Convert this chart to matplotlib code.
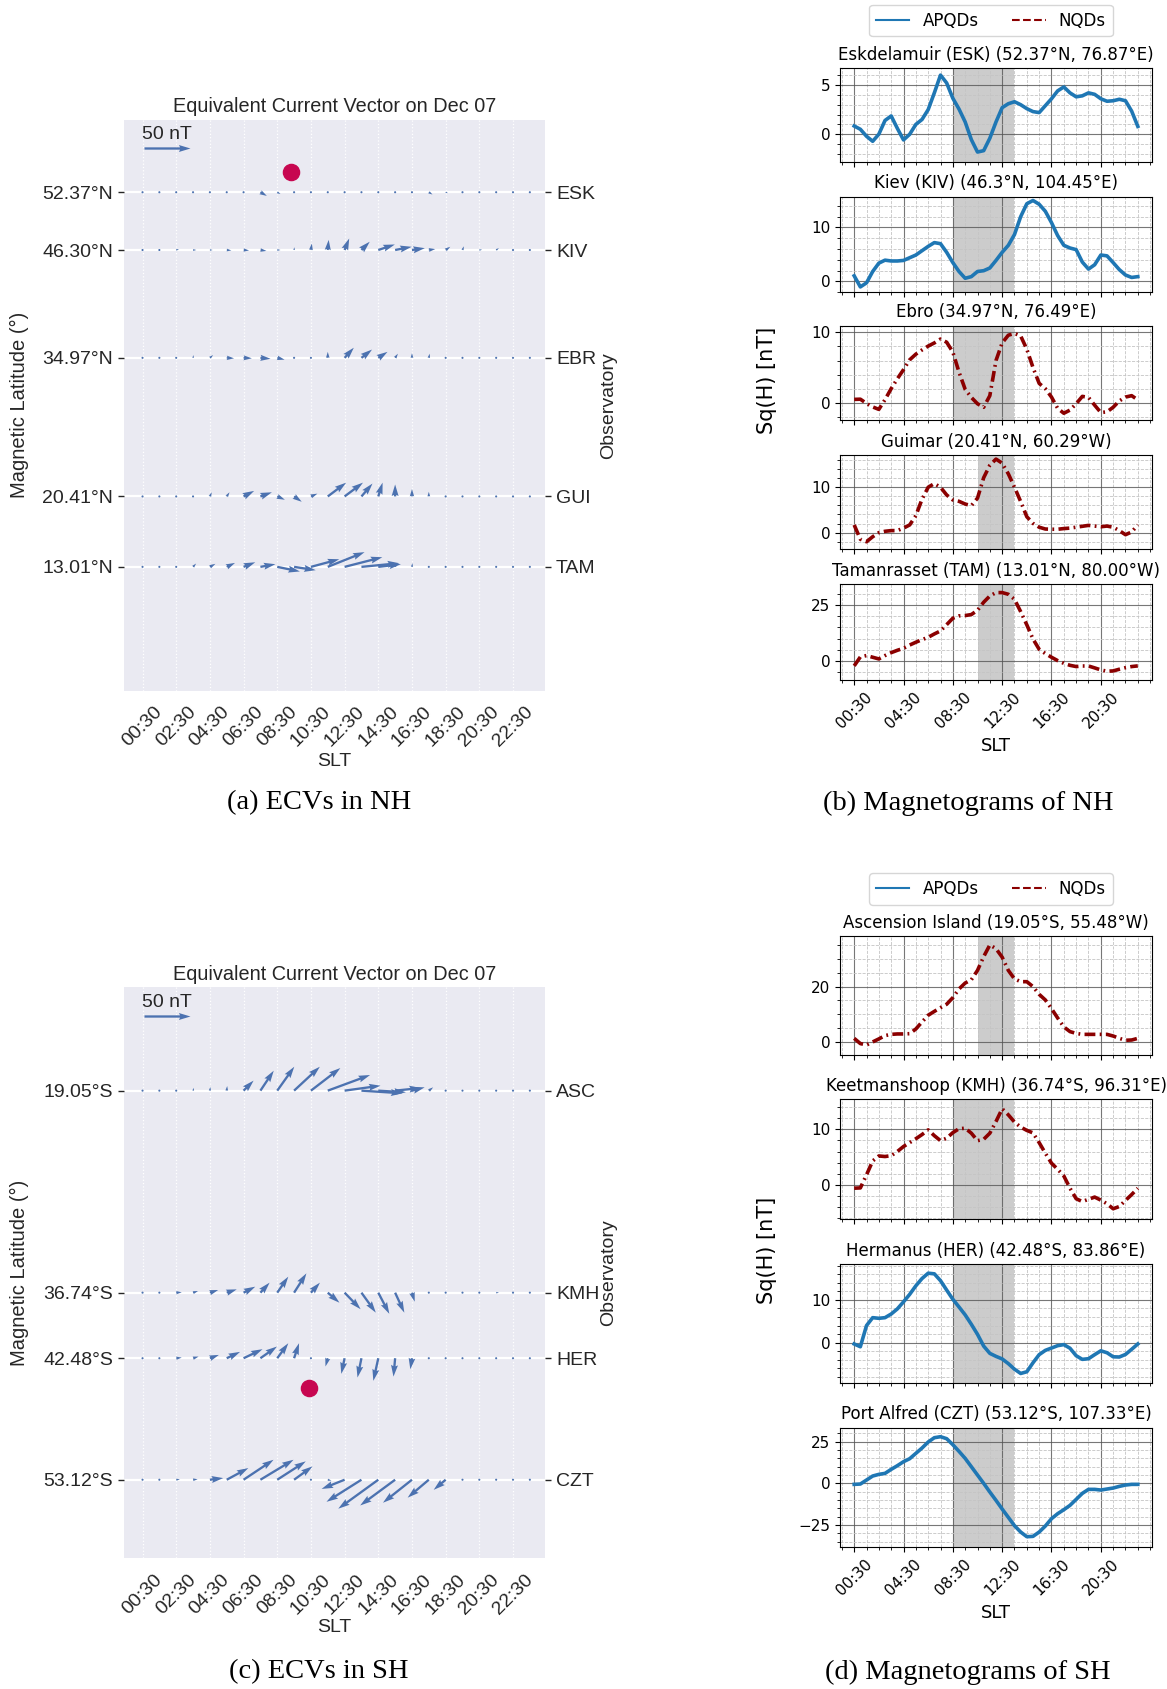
import numpy as np
import matplotlib
matplotlib.use("Agg")
import matplotlib.pyplot as plt
from matplotlib.lines import Line2D
from matplotlib.ticker import AutoMinorLocator

plt.rcParams["font.family"] = ["DejaVu Sans"]

W, H = 1167, 1689
fig = plt.figure(figsize=(W / 100, H / 100), dpi=100)


def box(x0, y0, x1, y1):
    # pixel box (top-left origin) -> figure rect
    return [x0 / W, 1 - y1 / H, (x1 - x0) / W, (y1 - y0) / H]


# ---------------- data ----------------
slt = np.arange(0.5, 24, 1.0)          # hourly SLT (ECVs)
slt_half = np.arange(0.5, 23.6, 0.5)   # half-hourly SLT (magnetograms)
tick_labels_2h = ["%02d:30" % h for h in range(0, 24, 2)]
tick_labels_4h = ["%02d:30" % h for h in range(0, 24, 4)]

# northern hemisphere ECVs (east, north components in nT)
nh_codes = ["ESK", "KIV", "EBR", "GUI", "TAM"]
nh_lats = [52.37, 46.30, 34.97, 20.41, 13.01]
nh_lat_labels = ["52.37°N", "46.30°N", "34.97°N", "20.41°N", "13.01°N"]

esk_u = [0.5, 0.5, 0.5, 0.5, 0.5, 0.5, 0.5, 7, 3.5, 1, 2, 0.5, 0.5, 1, 1, 1, 2, 4, 2.5, 2, 2, 1.5, 1, 1]
esk_v = [0, 0, 0, 0, 0, 0, 0, -4, -2, 0, -1, 0, 0, -0.5, -0.5, 0, -1, -2.5, -1, -0.5, -0.5, -0.5, -0.3, 0]
kiv_u = [0.3, 0.3, 3, 3.5, 3, 5, 6, 6.5, 3.5, 0.3, 1, 1, 5, 9, 18, 18, 14, 7, 5, 1.5, 3, 3, 0.5, 0.5]
kiv_v = [0, 0, 1, 0, 0, -0.5, -0.5, -1, 0, 3, 7, 11, 12.5, 9, 6, 3.5, 2, 1, 3.5, 4, 0.3, 2, 0, 0]
ebr_u = [0.3, 0.3, 0.3, 0.5, 3.5, 8, 9, 11, 8, 0.3, 0.3, 0, 10, 11.5, 10, 3, 0, 1, 0.3, 0.3, 0.3, 0.3, 0.3, 0.3]
ebr_v = [0, 0, 0, 3, 3, -0.5, -0.5, -1, -2, 0, 1.5, 6.5, 11, 9, 6.5, 4.5, 5, 4.5, 0, 2, 0, 0, 0, 0]
gui_u = [0.3, 0.3, 0.3, 0.3, 2, 3, 11.5, 12.5, 8.3, 8.3, 7, 20, 20, 12, 4.7, 0, 0, 0, 0, 0, 0.3, 0.3, 0.3, 0.3]
gui_v = [0, 0, 0, 2, 4.5, 4.5, 6, 4.5, -3.6, -5.8, 3, 15, 15, 14, 15, 13, 8, 5, 2, 1.5, 0, 0, 0, 0]
tam_u = [0.3, 0.3, 0.3, 3.3, 6, 9, 12.7, 16.3, 24.6, 23.5, 30.8, 40, 41, 41, 24.6, 1, 0.5, 1.5, 2, 1.5, 0.3, 0.3, 0.3, 0.3]
tam_v = [0, 0, 0, 3.6, 3.3, 4.3, 5, 2.9, -5, -3.6, 8.3, 16, 10.5, 4, 2.9, 4, 4, -2, -1.5, -1, 0, 0, 0, 0]

# southern hemisphere ECVs
sh_codes = ["ASC", "KMH", "HER", "CZT"]
sh_lats = [-19.05, -36.74, -42.48, -53.12]
sh_lat_labels = ["19.05°S", "36.74°S", "42.48°S", "53.12°S"]

asc_u = [0.3, 0.3, 0.3, 1, 0.5, 0.5, 10.9, 14.5, 18.5, 28, 32, 46, 39, 44.6, 30, 28, 13.8, 4.7, 0.5, 0.3, 0.3, 0.3, 0.3, 0.3]
asc_v = [0, 0, 1.5, 3, 4, 5, 10.9, 21.7, 26, 26, 24.6, 17, 5.4, -2.9, -1.8, 2.9, 3.6, 3.6, 0.5, 0, 0, 0, 0, 0]
kmh_u = [0.3, 0.3, 6, 5.4, 9, 10.9, 12.7, 10, 12, 13.4, 9.8, 12.7, 17.4, 15.6, 12, 10, 3, 0.3, 0.3, 0.3, 0.3, 3, 0.3, 0.3]
kmh_v = [0, 0, 0.4, 1.8, 2.9, 3.6, 6.5, 10.9, 17.4, 21, 10.9, -10.9, -18, -21.7, -23, -21.7, -9.8, 0, 0, 0, 0, 0, 0, 0]
her_u = [0.3, 0.3, 6, 6, 9.8, 14.5, 20.6, 18, 12, 5.4, 0, -2.5, -3.6, -4.3, -5.4, -1.8, -1.8, 0, 0.3, 0.3, 0.3, 0.3, 0.3, 0.3]
her_v = [0, 0, 0.7, 1.8, 3.6, 6.9, 9.8, 12.7, 16.3, 16.3, 1, -9, -17, -21, -24.6, -20, -12, -1, 0, 0, 0, 0, 0, 0]
czt_u = [0.3, 0.3, 4, 5, 14.5, 23.5, 32.6, 36, 31, 20, 1, 4, -25, -38, -43.5, -38, -31.5, -23, -13, 0.5, 0.3, 0.3, 0.3, 0.3]
czt_v = [0, 0, 0.5, 0.5, 1.8, 12.7, 21.7, 21.7, 20, 14.5, 2, -1, -10, -24, -31.5, -28, -25, -19.5, -11, 0, 0, 0, 0, 0]

# marker dots (SLT, latitude)
nh_dot = (9.31, 54.47)
sh_dot = (10.36, -45.06)

# magnetograms Sq(H) [nT], half-hourly
esk_sq = [0.84, 0.51, -0.2, -0.71, 0.01, 1.4, 1.86, 0.6, -0.57, 0, 1.0, 1.5, 2.5, 4.2, 6.0, 5.2,
          3.65, 2.56, 1.25, -0.54, -1.8, -1.66, -0.4, 1.25, 2.7, 3.1, 3.3, 3.0, 2.6, 2.3, 2.2, 2.9,
          3.6, 4.4, 4.8, 4.2, 3.8, 3.9, 4.2, 4.05, 3.6, 3.35, 3.4, 3.55, 3.4, 2.35, 0.8]
kiv_sq = [1.05, -1.0, -0.25, 1.85, 3.4, 3.95, 3.8, 3.8, 3.9, 4.4, 4.9, 5.7, 6.5, 7.2, 7.0, 5.4,
          3.5, 1.85, 0.6, 0.9, 1.85, 2.0, 2.5, 3.9, 5.4, 6.7, 8.7, 12.0, 14.4, 15.0, 14.3, 13.0,
          10.9, 8.5, 6.7, 6.2, 5.9, 3.6, 2.3, 3.1, 4.9, 4.75, 3.5, 2.2, 1.2, 0.75, 0.9]
ebr_sq = [0.47, 0.5, -0.1, -0.6, -0.95, 0.43, 2.0, 3.4, 4.7, 6.1, 6.9, 7.5, 8.05, 8.5, 9.05, 8.6,
          7.2, 4.35, 1.9, 0.75, -0.15, -0.65, 1.0, 6.0, 8.5, 9.6, 9.85, 9.5, 7.6, 5.0, 2.75, 2.0,
          0.8, -0.8, -1.5, -1.05, -0.15, 0.9, 0.75, -0.35, -1.4, -1.3, -0.65, 0.25, 0.8, 1.0, 0.4]
gui_sq = [1.7, -1.45, -2.0, -0.9, 0, 0.3, 0.45, 0.45, 1.0, 1.7, 3.75, 7.35, 10.0, 10.8, 10.0, 8.3,
          7.2, 6.9, 6.3, 5.95, 7.6, 12.1, 14.85, 16.2, 15.3, 12.95, 10.0, 6.85, 3.5, 2.05, 1.2, 0.8,
          0.75, 0.75, 0.9, 1.0, 1.2, 1.4, 1.6, 1.45, 1.3, 1.45, 1.2, 0.45, -0.45, 0.15, 1.7]
tam_sq = [-2.2, 1.8, 2.4, 1.65, 0.9, 2.4, 3.7, 4.75, 5.65, 7.1, 8.35, 9.5, 10.55, 12.05, 13.4, 16.2,
          19.05, 20.1, 20.25, 20.7, 22.6, 26.2, 29.0, 30.5, 30.5, 29.75, 27.5, 22.0, 16.1, 9.8, 5.2, 3.3,
          1.65, 0.15, -1.05, -1.95, -2.5, -2.25, -2.25, -3.1, -4.0, -4.6, -4.45, -3.7, -3.0, -2.5, -2.2]
asc_sq = [1.2, -0.7, -1.2, -0.1, 1.0, 2.2, 2.65, 2.8, 2.8, 2.9, 4.6, 7.15, 9.6, 11.0, 12.35, 13.6,
          16.0, 19.15, 21.3, 22.5, 25.9, 30.9, 35.15, 33.8, 30.7, 25.9, 22.8, 21.8, 21.8, 20.0, 17.2, 15.15,
          12.0, 8.6, 5.35, 3.65, 3.0, 2.65, 2.65, 2.65, 2.65, 2.65, 2.05, 1.2, 0.5, 0.6, 1.2]
kmh_sq = [-0.6, -0.55, 1.8, 4.3, 5.2, 5.1, 5.25, 6.0, 6.9, 7.6, 8.3, 9.05, 9.9, 8.85, 7.95, 8.4,
          9.4, 10.1, 10.2, 9.3, 7.95, 8.2, 9.3, 11.4, 13.7, 12.6, 11.3, 10.4, 9.8, 9.35, 7.6, 5.7,
          3.9, 2.8, 1.6, -0.6, -2.5, -3.0, -2.6, -2.2, -2.75, -3.4, -4.3, -3.9, -2.8, -1.75, -0.6]
her_sq = [-0.3, -0.95, 4.0, 5.85, 5.7, 5.85, 6.7, 7.9, 9.55, 11.3, 13.3, 15.0, 16.25, 16.1, 14.5, 12.3,
          10.15, 8.35, 6.5, 4.3, 1.95, -0.8, -2.5, -3.2, -3.8, -4.9, -6.2, -7.2, -6.8, -4.7, -2.8, -1.8,
          -1.25, -0.7, -0.45, -1.3, -3.05, -3.9, -3.75, -2.8, -1.9, -2.35, -3.3, -3.35, -2.75, -1.55, -0.3]
czt_sq = [-0.6, -0.4, 2.0, 4.4, 5.4, 6.0, 8.4, 10.6, 13.0, 14.8, 18.0, 21.2, 24.8, 27.4, 28.0, 26.8,
          23.2, 19.2, 15.0, 10.0, 5.0, 0, -5.2, -10.2, -15.4, -20.4, -25.4, -29.2, -32.0, -31.8, -29.2, -25.6,
          -21.2, -18.2, -15.8, -13.2, -9.6, -6.0, -3.6, -3.6, -4.0, -3.4, -2.8, -1.8, -1.0, -0.6, -0.6]

nh_titles = ["Eskdelamuir (ESK) (52.37°N, 76.87°E)", "Kiev (KIV) (46.3°N, 104.45°E)",
             "Ebro (34.97°N, 76.49°E)", "Guimar (20.41°N, 60.29°W)",
             "Tamanrasset (TAM) (13.01°N, 80.00°W)"]
sh_titles = ["Ascension Island (19.05°S, 55.48°W)", "Keetmanshoop (KMH) (36.74°S, 96.31°E)",
             "Hermanus (HER) (42.48°S, 83.86°E)", "Port Alfred (CZT) (53.12°S, 107.33°E)"]

# ---------------- styles ----------------
SANS = "Liberation Sans"
FS = 14
GREY = "#262626"
ARROW = "#4C72B0"
DOT = "#C70650"
APQD = dict(color="#1f77b4", lw=2.6, ls="-")
NQD = dict(color="#8B0000", lw=2.6, ls=(0, (3, 1.2, 0.5, 1.2)))


def ecv_panel(rect, lats, lat_labels, codes, us, vs, dot, ylim, title_y, slt_y):
    ax = fig.add_axes(box(*rect))
    ax.set_facecolor("#EAEAF2")
    for s in ax.spines.values():
        s.set_visible(False)
    ax.set_axisbelow(True)
    ax.grid(axis="y", color="white", lw=1.6)
    ax.grid(axis="x", color="white", lw=0.9, ls=":")
    X = np.tile(slt, len(lats))
    Y = np.repeat(lats, len(slt))
    q = ax.quiver(X, Y, np.concatenate(us), np.concatenate(vs), color=ARROW,
                  angles="uv", scale_units="inches", scale=108.7, width=0.0055,
                  pivot="tail", zorder=3)
    ax.quiverkey(q, 0.102, 0.95, 50, "50 nT", labelpos="N", coordinates="axes",
                 color=ARROW, labelcolor=GREY, labelsep=0.05,
                 fontproperties={"family": SANS, "size": FS})
    ax.scatter([dot[0]], [dot[1]], s=135, color=DOT, zorder=4)
    ax.set_xlim(-0.6, 24.4)
    ax.set_ylim(*ylim)
    ax.set_xticks(slt[::2])
    ax.set_xticklabels(tick_labels_2h, rotation=45, family=SANS, fontsize=FS, color=GREY)
    ax.tick_params(axis="x", length=0, pad=9)
    ax.set_yticks(lats)
    ax.set_yticklabels(lat_labels, family=SANS, fontsize=FS, color=GREY)
    ax.tick_params(axis="y", length=4, width=1, color=GREY, pad=4)
    ax2 = ax.twinx()
    ax2.set_ylim(*ylim)
    ax2.set_yticks(lats)
    ax2.set_yticklabels(codes, family=SANS, fontsize=FS, color=GREY)
    ax2.tick_params(axis="y", length=4, width=1, color=GREY, pad=4)
    for s in ax2.spines.values():
        s.set_visible(False)
    cx = (rect[0] + rect[2]) / 2 / W
    cy = 1 - (rect[1] + rect[3]) / 2 / H
    fig.text(cx, 1 - title_y / H, "Equivalent Current Vector on Dec 07", ha="center",
             va="center", family=SANS, fontsize=14.3, color=GREY)
    fig.text(cx, 1 - slt_y / H, "SLT", ha="center", va="center", family=SANS,
             fontsize=FS, color=GREY)
    fig.text(19.5 / W, cy, "Magnetic Latitude (°)", rotation=90, ha="center", va="center",
             family=SANS, fontsize=14.5, color=GREY)
    fig.text(609 / W, cy, "Observatory", rotation=90, ha="center", va="center",
             family=SANS, fontsize=FS, color=GREY)


def sq_panel(rect, title, vals, style, span, ylim, yticks, bottom):
    ax = fig.add_axes(box(*rect))
    ax.axvspan(span[0], span[1], color="gray", alpha=0.4, lw=0, zorder=1)
    ax.plot(slt_half, vals, zorder=3, **style)
    ax.set_xlim(-0.65, 24.65)
    ax.set_ylim(*ylim)
    ax.set_xticks(slt[::4])
    ax.set_yticks(yticks)
    ax.xaxis.set_minor_locator(AutoMinorLocator(4))
    ax.yaxis.set_minor_locator(AutoMinorLocator())
    ax.grid(which="major", color="#555555", lw=0.8, alpha=0.8)
    ax.grid(which="minor", color="#c4c4c4", lw=0.6, ls="--")
    ax.tick_params(labelsize=11)
    if bottom:
        ax.set_xticklabels(tick_labels_4h, rotation=45)
        ax.set_xlabel("SLT", fontsize=13)
    else:
        ax.set_xticklabels([])
    ax.set_title(title, fontsize=12)
    return ax


# ---------------- left: ECVs ----------------
ecv_panel((124, 119.6, 545, 690.7), nh_lats, nh_lat_labels, nh_codes,
          [esk_u, kiv_u, ebr_u, gui_u, tam_u], [esk_v, kiv_v, ebr_v, gui_v, tam_v],
          nh_dot, (0, 60), 106, 761.7)
ecv_panel((124, 987.3, 545, 1558.3), sh_lats, sh_lat_labels, sh_codes,
          [asc_u, kmh_u, her_u, czt_u], [asc_v, kmh_v, her_v, czt_v],
          sh_dot, (-60, -10), 974.3, 1628)

# ---------------- right: magnetograms ----------------
nh_rects = [(840, 68.3, 1152, 162.3), (840, 196.7, 1152, 292.3), (840, 325.7, 1152, 420),
            (840, 455, 1152, 549), (840, 584.3, 1152, 680)]
nh_vals = [esk_sq, kiv_sq, ebr_sq, gui_sq, tam_sq]
nh_styles = [APQD, APQD, NQD, NQD, NQD]
nh_spans = [(8.5, 13.5), (8.5, 13.5), (8.5, 13.5), (10.5, 13.5), (10.5, 13.5)]
nh_ylims = [(-2.84, 6.69), (-2.0, 15.7), (-2.46, 10.95), (-3.6, 17.1), (-8.5, 34.2)]
nh_yticks = [[0, 5], [0, 10], [0, 10], [0, 10], [0, 25]]
for i in range(5):
    sq_panel(nh_rects[i], nh_titles[i], nh_vals[i], nh_styles[i], nh_spans[i],
             nh_ylims[i], nh_yticks[i], i == 4)

sh_rects = [(840, 936, 1152, 1055), (840, 1099.3, 1152, 1219.3), (840, 1264, 1152, 1383.3),
            (840, 1427.7, 1152, 1546.7)]
sh_vals = [asc_sq, kmh_sq, her_sq, czt_sq]
sh_styles = [NQD, NQD, APQD, APQD]
sh_spans = [(10.5, 13.5), (8.5, 13.5), (8.5, 13.5), (8.5, 13.5)]
sh_ylims = [(-4.85, 38.4), (-6.2, 15.4), (-9.5, 18.4), (-38, 33.4)]
sh_yticks = [[0, 20], [0, 10], [0, 10], [-25, 0, 25]]
for i in range(4):
    sq_panel(sh_rects[i], sh_titles[i], sh_vals[i], sh_styles[i], sh_spans[i],
             sh_ylims[i], sh_yticks[i], i == 3)

handles = [Line2D([], [], color="#1f77b4", lw=1.5),
           Line2D([], [], color="#8B0000", lw=1.5, ls="--")]
for ly in (20.7, 889):
    fig.legend(handles, ["APQDs", "NQDs"], ncol=2, loc="center", fontsize=12,
               bbox_to_anchor=(991 / W, 1 - ly / H))

fig.text(767 / W, 1 - 380 / H, "Sq(H) [nT]", rotation=90, ha="center", va="center", fontsize=15)
fig.text(767 / W, 1 - 1250 / H, "Sq(H) [nT]", rotation=90, ha="center", va="center", fontsize=15)

# ---------------- captions ----------------
cap = dict(ha="center", va="center", family="Liberation Serif", fontsize=20.5)
fig.text(319 / W, 1 - 803 / H, "(a) ECVs in NH", **cap)
fig.text(968 / W, 1 - 803 / H, "(b) Magnetograms of NH", **cap)
fig.text(319 / W, 1 - 1672 / H, "(c) ECVs in SH", **cap)
fig.text(968 / W, 1 - 1672 / H, "(d) Magnetograms of SH", **cap)

fig.savefig("out.png", dpi=100)
